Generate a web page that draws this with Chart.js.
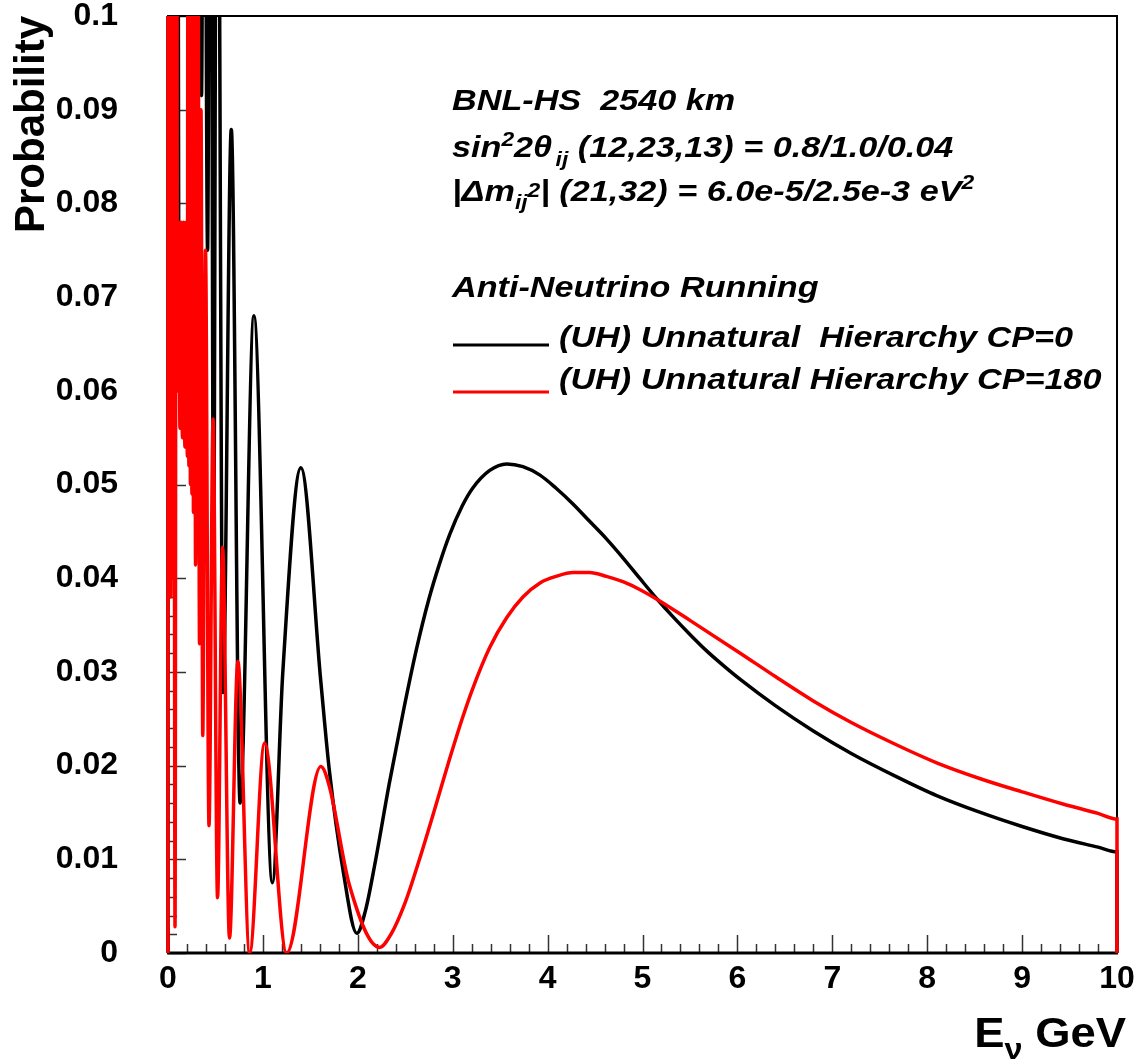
<!DOCTYPE html>
<html>
<head>
<meta charset="utf-8">
<script src="https://cdn.jsdelivr.net/npm/chart.js@4.4.1/dist/chart.umd.min.js"></script>
<style>
html,body{margin:0;padding:0;background:#fff;}
#wrap{width:1140px;height:1061px;position:relative;}
canvas{display:block;}
</style>
</head>
<body>
<div id="wrap"><canvas id="c" width="1140" height="1061"></canvas></div>
<script>
// ---------- data ----------
const xTickValues = [0,1,2,3,4,5,6,7,8,9,10];
const xTickLabels = ['0','1','2','3','4','5','6','7','8','9','10'];
const yTickValues = [0,0.01,0.02,0.03,0.04,0.05,0.06,0.07,0.08,0.09,0.1];
const yTickLabels = ['0','0.01','0.02','0.03','0.04','0.05','0.06','0.07','0.08','0.09','0.1'];

const seriesNames = ['(UH) Unnatural  Hierarchy CP=0', '(UH) Unnatural Hierarchy CP=180'];
const seriesColors = ['#000000', '#ff0000'];

// CP = 0 (black)
const energyCP0 = [0, 0, 0.030, 0.058, 0.090, 0.100, 0.117, 0.140, 0.163, 0.184, 0.206, 0.232, 0.258, 0.285, 0.306, 0.327,
  0.353, 0.380, 0.417, 0.448, 0.480, 0.517, 0.580, 0.667, 0.760, 0.905, 1.10, 1.21, 1.40, 1.61, 1.70, 1.85, 1.99,
  2.08, 2.18, 2.33, 2.48, 2.62, 2.75, 2.86, 2.97, 3.10, 3.21, 3.39, 3.57, 3.74, 3.92, 4.09, 4.27, 4.44, 4.62, 4.80,
  4.97, 5.16, 5.32, 5.50, 5.67, 5.85, 6.03, 6.40, 6.80, 7.20, 7.68, 8.10, 8.56, 9.00, 9.43, 9.80, 10.0, 10.0];
const probCP0 = [0, 0.15, 0.050, 0.15, 0.072, 0.15, 0.062, 0.074, 0.058, 0.072, 0.060, 0.15, 0.065, 0.15, 0.070, 0.15,
  0.0915, 0.15, 0.075, 0.15, 0.041, 0.15, 0.0278, 0.0879, 0.0160, 0.0680, 0.0075, 0.0300, 0.0518, 0.0290, 0.0195, 0.0085, 0.0021,
  0.0045, 0.0095, 0.0180, 0.0258, 0.0325, 0.0378, 0.0415, 0.0447, 0.0477, 0.0496, 0.0515, 0.0522, 0.0519, 0.0510, 0.0496, 0.0479, 0.0461, 0.0442, 0.0421,
  0.0400, 0.0377, 0.0359, 0.0340, 0.0323, 0.0307, 0.0292, 0.0264, 0.0237, 0.0213, 0.0188, 0.0168, 0.0150, 0.0135, 0.0122, 0.0113, 0.0108, 0];

// CP = 180 (red)
const energyCP180 = [0, 0, 0.010, 0.020, 0.030, 0.040, 0.050, 0.058, 0.074, 0.090, 0.100, 0.113, 0.126, 0.139, 0.152,
  0.165, 0.178, 0.191, 0.204, 0.212, 0.220, 0.228, 0.236, 0.244, 0.252, 0.260, 0.268, 0.278, 0.290, 0.311, 0.332,
  0.348, 0.366, 0.395, 0.432, 0.475, 0.522, 0.575, 0.648, 0.736, 0.860, 1.017, 1.25, 1.61, 1.70, 1.91,
  2.23, 2.35, 2.50, 2.65, 2.80, 2.97, 3.10, 3.21, 3.39, 3.57, 3.74, 3.92, 4.09, 4.27, 4.44, 4.62, 4.80, 4.97,
  5.16, 5.50, 6.03, 6.40, 6.80, 7.20, 7.68, 8.10, 8.56, 9.00, 9.43, 9.80, 10.0, 10.0];
const probCP180 = [0, 0.15, 0.040, 0.15, 0.038, 0.15, 0.040, 0.15, 0.0028, 0.15, 0.060, 0.078, 0.056, 0.078, 0.055,
  0.078, 0.054, 0.078, 0.053, 0.15, 0.052, 0.15, 0.050, 0.15, 0.049, 0.15, 0.047, 0.15, 0.0414, 0.15, 0.033,
  0.090, 0.0232, 0.075, 0.0136, 0.057, 0.0059, 0.0433, 0.0016, 0.0311, 0.0, 0.0224, 0.0, 0.0199, 0.0178, 0.0073,
  0.0006, 0.0020, 0.0054, 0.0100, 0.0150, 0.0208, 0.0250, 0.0282, 0.0326, 0.0358, 0.0380, 0.0395, 0.0402, 0.0406, 0.0406, 0.0402, 0.0396, 0.0388,
  0.0377, 0.0355, 0.0320, 0.0295, 0.0269, 0.0246, 0.0222, 0.0203, 0.0186, 0.0172, 0.0159, 0.0149, 0.0143, 0];

// ---------- text ----------
const FONT = '"Liberation Sans", Arial, Helvetica, sans-serif';
const infoLines = [
  [{t: 'BNL-HS  2540 km'}],
  [{t: 'sin'}, {t: '2', small: true, dy: -11}, {t: '2\u03b8'}, {t: 'ij', small: true, dy: 9, pre: 3}, {t: ' (12,23,13) = 0.8/1.0/0.04'}],
  [{t: '|\u0394m'}, {t: 'ij', small: true, dy: 8}, {t: '2', small: true, dy: -4}, {t: '| (21,32) = 6.0e-5/2.5e-3 eV'}, {t: '2', small: true, dy: -12}],
  [],
  [{t: 'Anti-Neutrino Running'}]
];
const xTitleParts = [{t: 'E'}, {t: '\u03bd', small: true, dy: 12}, {t: ' GeV'}];
const yTitleText = 'Probability';

function toPoints(xs, ys) { return xs.map((x, i) => ({x: x, y: ys[i]})); }

function drawParts(ctx, x, y, parts, size, smallSize, sx, style) {
  ctx.save();
  ctx.translate(x, y);
  ctx.scale(sx, 1);
  ctx.textBaseline = 'alphabetic';
  ctx.textAlign = 'left';
  let cx = 0;
  for (const p of parts) {
    const s = p.small ? smallSize : size;
    ctx.font = style + ' ' + s + 'px ' + FONT;
    cx += (p.pre || 0);
    ctx.fillText(p.t, cx, p.dy || 0);
    cx += ctx.measureText(p.t).width;
  }
  ctx.restore();
  return cx * sx;
}
function partsWidth(ctx, parts, size, smallSize, style) {
  let w = 0;
  for (const p of parts) {
    ctx.font = style + ' ' + (p.small ? smallSize : size) + 'px ' + FONT;
    w += (p.pre || 0) + ctx.measureText(p.t).width;
  }
  return w;
}

const rootStyle = {
  id: 'rootStyle',
  beforeDatasetsDraw(chart) {
    const {ctx, chartArea: a, scales: {x, y}} = chart;
    ctx.save();
    // tick marks inside the frame
    ctx.strokeStyle = '#333';
    ctx.lineWidth = 1.5;
    ctx.beginPath();
    for (let k = 0; k <= 50; k++) {
      const px = Math.round(x.getPixelForValue(k * 0.2)) + 0.5;
      const len = (k % 5 === 0) ? 18 : 9;
      ctx.moveTo(px, a.bottom); ctx.lineTo(px, a.bottom - len);
    }
    for (let k = 0; k <= 50; k++) {
      const py = Math.round(y.getPixelForValue(k * 0.002)) + 0.5;
      const len = (k % 5 === 0) ? 18 : 9;
      ctx.moveTo(a.left, py); ctx.lineTo(a.left + len, py);
    }
    ctx.stroke();
    // frame
    ctx.strokeStyle = '#000';
    ctx.lineWidth = 2;
    ctx.strokeRect(a.left, a.top, a.right - a.left, a.bottom - a.top);
    ctx.lineWidth = 3;
    ctx.beginPath();
    ctx.moveTo(a.left - 1, a.bottom); ctx.lineTo(a.right + 1, a.bottom);
    ctx.stroke();
    ctx.restore();
  },
  afterDraw(chart) {
    const {ctx} = chart;
    const SX = 1.14;
    ctx.save();
    ctx.fillStyle = '#000';
    // info block
    const baselines = [110, 157, 201, 0, 297];
    infoLines.forEach((parts, i) => {
      if (parts.length) drawParts(ctx, 452, baselines[i], parts, 30, 20, SX, 'italic bold');
    });
    // legend
    const legendY = [345, 392];
    const textY = [347, 389];
    chart.data.datasets.forEach((ds, i) => {
      ctx.strokeStyle = ds.borderColor;
      ctx.lineWidth = 3;
      ctx.beginPath();
      ctx.moveTo(453, legendY[i]); ctx.lineTo(549, legendY[i]);
      ctx.stroke();
      ctx.fillStyle = '#000';
      drawParts(ctx, 559, textY[i], [{t: ds.label}], 30, 20, SX, 'italic bold');
    });
    // x axis title, right aligned
    const xs = 1.08;
    const w = partsWidth(ctx, xTitleParts, 42, 30, 'bold') * xs;
    drawParts(ctx, 1126 - w, 1047, xTitleParts, 42, 30, xs, 'bold');
    ctx.restore();
  }
};

const tickFont = {family: FONT, weight: 'bold', size: 32, lineHeight: 1};

new Chart(document.getElementById('c').getContext('2d'), {
  type: 'line',
  data: {
    datasets: [
      {
        label: seriesNames[0],
        data: toPoints(energyCP0, probCP0),
        borderColor: seriesColors[0],
        backgroundColor: seriesColors[0],
        borderWidth: 3.5,
        pointRadius: 0,
        fill: false,
        cubicInterpolationMode: 'monotone',
        order: 2,
        clip: {left: 2, top: 0, right: 2, bottom: 0}
      },
      {
        label: seriesNames[1],
        data: toPoints(energyCP180, probCP180),
        borderColor: seriesColors[1],
        backgroundColor: seriesColors[1],
        borderWidth: 3.5,
        pointRadius: 0,
        fill: false,
        cubicInterpolationMode: 'monotone',
        order: 1,
        clip: {left: 2, top: 0, right: 2, bottom: 0}
      }
    ]
  },
  options: {
    responsive: false,
    animation: false,
    events: [],
    layout: {padding: {left: 0, top: 16, right: 23, bottom: 0}},
    plugins: {legend: {display: false}, tooltip: {enabled: false}},
    scales: {
      x: {
        type: 'linear', min: 0, max: 10,
        afterFit(s) { s.height = 108; s.paddingLeft = 0; s.paddingRight = 0; },
        afterBuildTicks(s) { s.ticks = xTickValues.map(v => ({value: v})); },
        ticks: {
          callback: (v, i) => xTickLabels[i],
          font: tickFont, color: '#000', padding: 10, maxRotation: 0, autoSkip: false
        },
        grid: {display: false, drawTicks: false},
        border: {display: false}
      },
      y: {
        type: 'linear', min: 0, max: 0.1,
        afterFit(s) { s.width = 168; s.paddingTop = 0; s.paddingBottom = 0; },
        afterBuildTicks(s) { s.ticks = yTickValues.map(v => ({value: v})); },
        ticks: {
          callback: (v, i) => yTickLabels[i],
          font: tickFont, color: '#000', padding: 50, autoSkip: false
        },
        title: {
          display: true, text: yTitleText, align: 'end', color: '#000',
          font: {family: FONT, weight: 'bold', size: 42, lineHeight: 1},
          padding: {top: 11, bottom: 0}
        },
        grid: {display: false, drawTicks: false},
        border: {display: false}
      }
    }
  },
  plugins: [rootStyle]
});
</script>
</body>
</html>
